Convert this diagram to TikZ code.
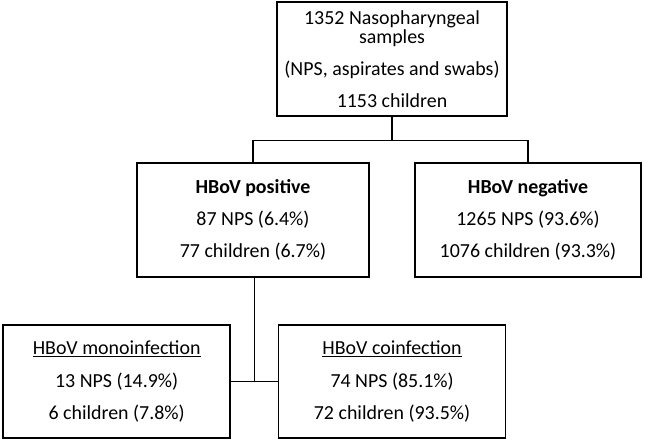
\documentclass[tikz,border=0pt]{standalone}
\usepackage{fontspec}
\setmainfont{Carlito}
\usepackage{tikz}
\usetikzlibrary{positioning, calc}

\tikzset{
    flowbox/.style={draw=black, line width=1.2pt, align=center, inner sep=0pt,
                    minimum height=3.42cm, font=\fontsize{17}{16}\selectfont},
    link/.style={draw=black, line width=1.2pt}
}

\begin{document}
\begin{tikzpicture}
        \useasboundingbox (0,0) rectangle (19.38,-13.26);
        % top level
        \node[flowbox, minimum width=6.9cm] (samples) at (11.76,-1.77) {
            1352 Nasopharyngeal\\ samples\\[0.4cm]
            (NPS, aspirates and swabs)\\[0.4cm]
            1153 children};
        % second level
        \node[flowbox, minimum width=6.96cm] (positive) at (7.59,-6.6) {
            \textbf{HBoV positive}\\[0.4cm]
            87 NPS (6.4\%)\\[0.4cm]
            77 children (6.7\%)};
        \node[flowbox, minimum width=6.78cm] (negative) at (15.84,-6.6) {
            \textbf{HBoV negative}\\[0.4cm]
            1265 NPS (93.6\%)\\[0.4cm]
            1076 children (93.3\%)};
        % third level
        \node[flowbox, minimum width=6.81cm, minimum height=3.39cm] (mono) at (3.5,-11.445) {
            \underline{HBoV monoinfection}\\[0.4cm]
            13 NPS (14.9\%)\\[0.4cm]
            6 children (7.8\%)};
        \node[flowbox, minimum width=6.81cm, minimum height=3.39cm, right=1.41cm of mono] (coinf) {
            \underline{HBoV coinfection}\\[0.4cm]
            74 NPS (85.1\%)\\[0.4cm]
            72 children (93.5\%)};
        % connectors
        \coordinate (split) at ($(samples.south)+(0,-0.72)$);
        \coordinate (join) at ($(mono.east)!0.5!(coinf.west)$);
        \draw[link] (samples.south) -- (split);
        \draw[link] (positive.north) |- (split) -| (negative.north);
        \draw[link] (positive.south -| join) -- (join);
        \draw[link] (mono.east) -- (coinf.west);
    \end{tikzpicture}
\end{document}
